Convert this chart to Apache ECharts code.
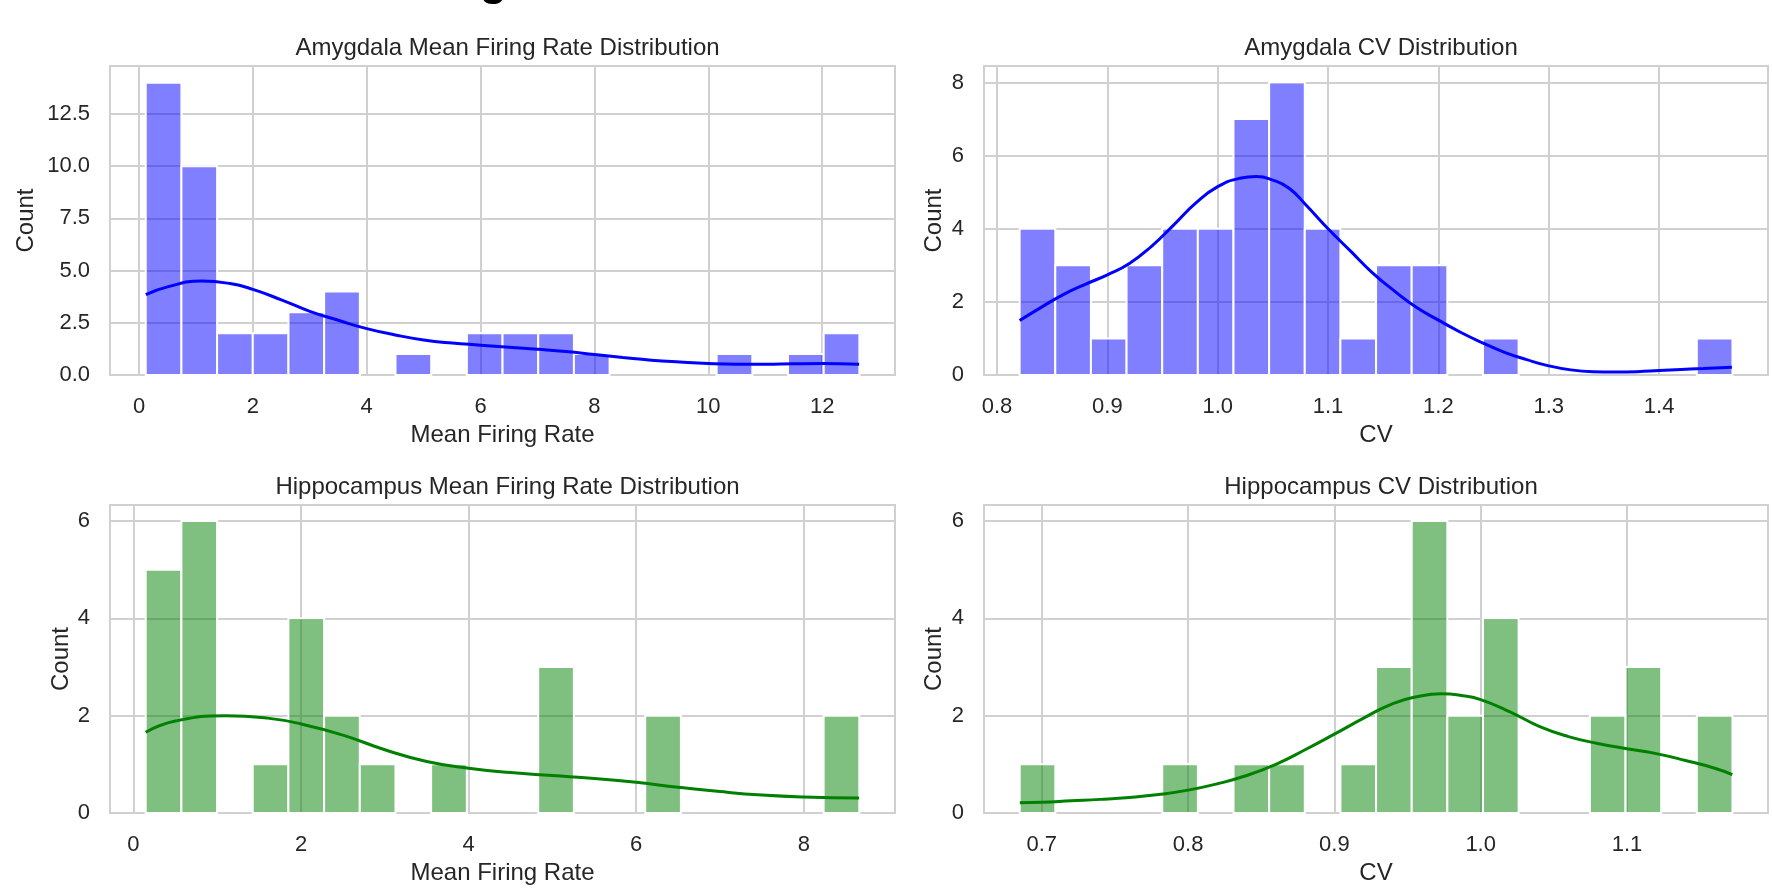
<!DOCTYPE html>
<html>
<head>
<meta charset="utf-8">
<script src="https://cdn.jsdelivr.net/npm/echarts@6/dist/echarts.min.js"></script>
<style>
html,body{margin:0;padding:0;background:#fff;}
#chart{width:1772px;height:888px;}
</style>
</head>
<body>
<div id="chart"></div>
<script>
// ---------- DATA ----------
const panelTitles = ['Amygdala Mean Firing Rate Distribution', 'Amygdala CV Distribution',
                     'Hippocampus Mean Firing Rate Distribution', 'Hippocampus CV Distribution'];
const xAxisNames = ['Mean Firing Rate', 'CV', 'Mean Firing Rate', 'CV'];
const yAxisName = 'Count';

// histogram counts (20 bins each), bin start and bin width
const amyMfrCounts = [14, 10, 2, 2, 3, 4, 0, 1, 0, 2, 2, 2, 1, 0, 0, 0, 1, 0, 1, 2];
const amyMfrBin = [0.118, 0.6268];
const amyCvCounts = [4, 3, 1, 3, 4, 4, 7, 8, 4, 1, 3, 3, 0, 1, 0, 0, 0, 0, 0, 1];
const amyCvBin = [0.8205, 0.0323];
const hipMfrCounts = [5, 6, 0, 1, 4, 2, 1, 0, 1, 0, 0, 3, 0, 0, 2, 0, 0, 0, 0, 2];
const hipMfrBin = [0.146, 0.4258];
const hipCvCounts = [1, 0, 0, 0, 1, 0, 1, 1, 0, 1, 3, 6, 2, 4, 0, 0, 2, 3, 0, 2];
const hipCvBin = [0.6849, 0.02436];

// KDE curves (scaled to counts)
const amyMfrKdeX = [0.12, 0.5, 1.1, 1.6, 2.0, 2.5, 3.0, 3.5, 4.0, 4.5, 5.0, 5.5, 6.0, 6.5, 7.0, 7.5, 8.0, 8.5, 9.0, 9.5, 10.0, 10.5, 11.0, 11.5, 12.0, 12.65];
const amyMfrKdeY = [3.85, 4.22, 4.5, 4.38, 4.1, 3.6, 3.05, 2.62, 2.22, 1.92, 1.68, 1.53, 1.43, 1.33, 1.23, 1.12, 0.98, 0.84, 0.71, 0.62, 0.55, 0.52, 0.52, 0.54, 0.55, 0.52];
const amyCvKdeX = [0.8205, 0.84, 0.86, 0.88, 0.90, 0.92, 0.94, 0.96, 0.98, 1.00, 1.02, 1.035, 1.05, 1.065, 1.08, 1.10, 1.12, 1.14, 1.16, 1.18, 1.20, 1.22, 1.24, 1.26, 1.28, 1.30, 1.32, 1.34, 1.36, 1.38, 1.40, 1.42, 1.44, 1.466];
const amyCvKdeY = [1.49, 1.85, 2.2, 2.48, 2.74, 3.05, 3.52, 4.1, 4.7, 5.15, 5.38, 5.43, 5.33, 5.1, 4.65, 4.0, 3.4, 2.8, 2.3, 1.85, 1.5, 1.17, 0.88, 0.62, 0.42, 0.25, 0.14, 0.09, 0.08, 0.09, 0.12, 0.15, 0.18, 0.21];
const hipMfrKdeX = [0.146, 0.5, 1.1, 1.6, 2.0, 2.5, 3.0, 3.5, 4.0, 4.5, 5.0, 5.5, 6.0, 6.5, 7.0, 7.5, 8.0, 8.66];
const hipMfrKdeY = [1.66, 1.89, 2.0, 1.95, 1.83, 1.6, 1.3, 1.06, 0.92, 0.83, 0.77, 0.71, 0.63, 0.53, 0.44, 0.37, 0.33, 0.31];
const hipCvKdeX = [0.685, 0.70, 0.72, 0.74, 0.76, 0.78, 0.80, 0.82, 0.84, 0.86, 0.88, 0.90, 0.92, 0.94, 0.958, 0.973, 0.988, 1.00, 1.02, 1.04, 1.06, 1.08, 1.10, 1.12, 1.14, 1.16, 1.172];
const hipCvKdeY = [0.21, 0.22, 0.25, 0.28, 0.32, 0.38, 0.47, 0.6, 0.77, 1.0, 1.3, 1.62, 1.95, 2.25, 2.4, 2.45, 2.41, 2.33, 2.08, 1.78, 1.57, 1.43, 1.32, 1.22, 1.08, 0.92, 0.79];

// tick labels
const amyMfrXTicks = [0, 2, 4, 6, 8, 10, 12];
const amyMfrYTicks = [0, 2.5, 5, 7.5, 10, 12.5];
const amyCvXTicks = [0.8, 0.9, 1.0, 1.1, 1.2, 1.3, 1.4];
const amyCvYTicks = [0, 2, 4, 6, 8];
const hipMfrXTicks = [0, 2, 4, 6, 8];
const hipMfrYTicks = [0, 2, 4, 6];
const hipCvXTicks = [0.7, 0.8, 0.9, 1.0, 1.1];
const hipCvYTicks = [0, 2, 4, 6];

// ---------- LAYOUT / STYLE ----------
const FONT = '"Liberation Sans", Arial, sans-serif';
const TXT = '#262626';
const GRIDC = '#d0d0d0';
const panels = [
  {counts: amyMfrCounts, bin: amyMfrBin, kx: amyMfrKdeX, ky: amyMfrKdeY, xt: amyMfrXTicks, yt: amyMfrYTicks,
   xr: [-0.51, 13.28], ymax: 14.8, fill: 'rgba(0,0,255,0.5)', line: '#0000ff', xdec: 0, ydec: 1,
   grid: {left: 110, top: 66, width: 785, height: 309}, ygap: 72},
  {counts: amyCvCounts, bin: amyCvBin, kx: amyCvKdeX, ky: amyCvKdeY, xt: amyCvXTicks, yt: amyCvYTicks,
   xr: [0.7882, 1.4987], ymax: 8.45, fill: 'rgba(0,0,255,0.5)', line: '#0000ff', xdec: 1, ydec: 0,
   grid: {left: 984, top: 66, width: 784, height: 309}, ygap: 38},
  {counts: hipMfrCounts, bin: hipMfrBin, kx: hipMfrKdeX, ky: hipMfrKdeY, xt: hipMfrXTicks, yt: hipMfrYTicks,
   xr: [-0.28, 9.088], ymax: 6.33, fill: 'rgba(0,128,0,0.5)', line: '#008000', xdec: 0, ydec: 0,
   grid: {left: 110, top: 505, width: 785, height: 308}, ygap: 37},
  {counts: hipCvCounts, bin: hipCvBin, kx: hipCvKdeX, ky: hipCvKdeY, xt: hipCvXTicks, yt: hipCvYTicks,
   xr: [0.6605, 1.1964], ymax: 6.33, fill: 'rgba(0,128,0,0.5)', line: '#008000', xdec: 1, ydec: 0,
   grid: {left: 984, top: 505, width: 784, height: 308}, ygap: 38}
];

const grids = [], xAxes = [], yAxes = [], series = [], titles = [];
panels.forEach((p, i) => {
  grids.push(Object.assign({show: true, borderColor: GRIDC, borderWidth: 2, backgroundColor: '#fff', containLabel: false}, p.grid));
  titles.push({
    text: panelTitles[i], left: p.grid.left + p.grid.width / 2, top: p.grid.top - 35, textAlign: 'center',
    textStyle: {fontFamily: FONT, fontSize: 24, fontWeight: 'normal', color: TXT}
  });
  xAxes.push({
    type: 'value', gridIndex: i, min: p.xr[0], max: p.xr[1],
    name: xAxisNames[i], nameLocation: 'middle', nameGap: 48,
    nameTextStyle: {fontFamily: FONT, fontSize: 24, color: TXT},
    axisLine: {show: false},
    axisTick: {show: false, customValues: p.xt},
    axisLabel: {customValues: p.xt, margin: 21, fontFamily: FONT, fontSize: 22, color: TXT,
                formatter: v => Number(v).toFixed(p.xdec)},
    splitLine: {show: true, lineStyle: {color: GRIDC, width: 2}}
  });
  yAxes.push({
    type: 'value', gridIndex: i, min: 0, max: p.ymax,
    name: yAxisName, nameLocation: 'middle', nameGap: p.ygap,
    nameTextStyle: {fontFamily: FONT, fontSize: 24, color: TXT},
    axisLine: {show: false},
    axisTick: {show: false, customValues: p.yt},
    axisLabel: {customValues: p.yt, margin: 20, fontFamily: FONT, fontSize: 22, color: TXT,
                formatter: v => Number(v).toFixed(p.ydec)},
    splitLine: {show: true, lineStyle: {color: GRIDC, width: 2}}
  });
  const binData = [];
  p.counts.forEach((c, k) => {
    if (c > 0) binData.push([p.bin[0] + k * p.bin[1], p.bin[0] + (k + 1) * p.bin[1], c]);
  });
  series.push({
    type: 'custom', xAxisIndex: i, yAxisIndex: i, data: binData, z: 2,
    encode: {x: [0, 1], y: 2},
    renderItem: (params, api) => {
      const a = api.coord([api.value(0), 0]);
      const b = api.coord([api.value(1), api.value(2)]);
      return {type: 'rect', shape: {x: a[0], y: b[1], width: b[0] - a[0], height: a[1] - b[1]},
              style: {fill: p.fill, stroke: '#ffffff', lineWidth: 2}};
    }
  });
  series.push({
    type: 'line', xAxisIndex: i, yAxisIndex: i, z: 3, smooth: 0.5, showSymbol: false,
    data: p.kx.map((x, k) => [x, p.ky[k]]),
    lineStyle: {color: p.line, width: 3}
  });
});

const chart = echarts.init(document.getElementById('chart'), null, {renderer: 'canvas'});
chart.setOption({
  animation: false,
  backgroundColor: '#ffffff',
  title: titles,
  grid: grids, xAxis: xAxes, yAxis: yAxes, series: series,
  graphic: [{
    type: 'text', left: 480, top: -39,
    style: {text: 'g', font: 'bold 44px "Liberation Sans", Arial, sans-serif', fill: '#000'}
  }]
});
</script>
</body>
</html>
